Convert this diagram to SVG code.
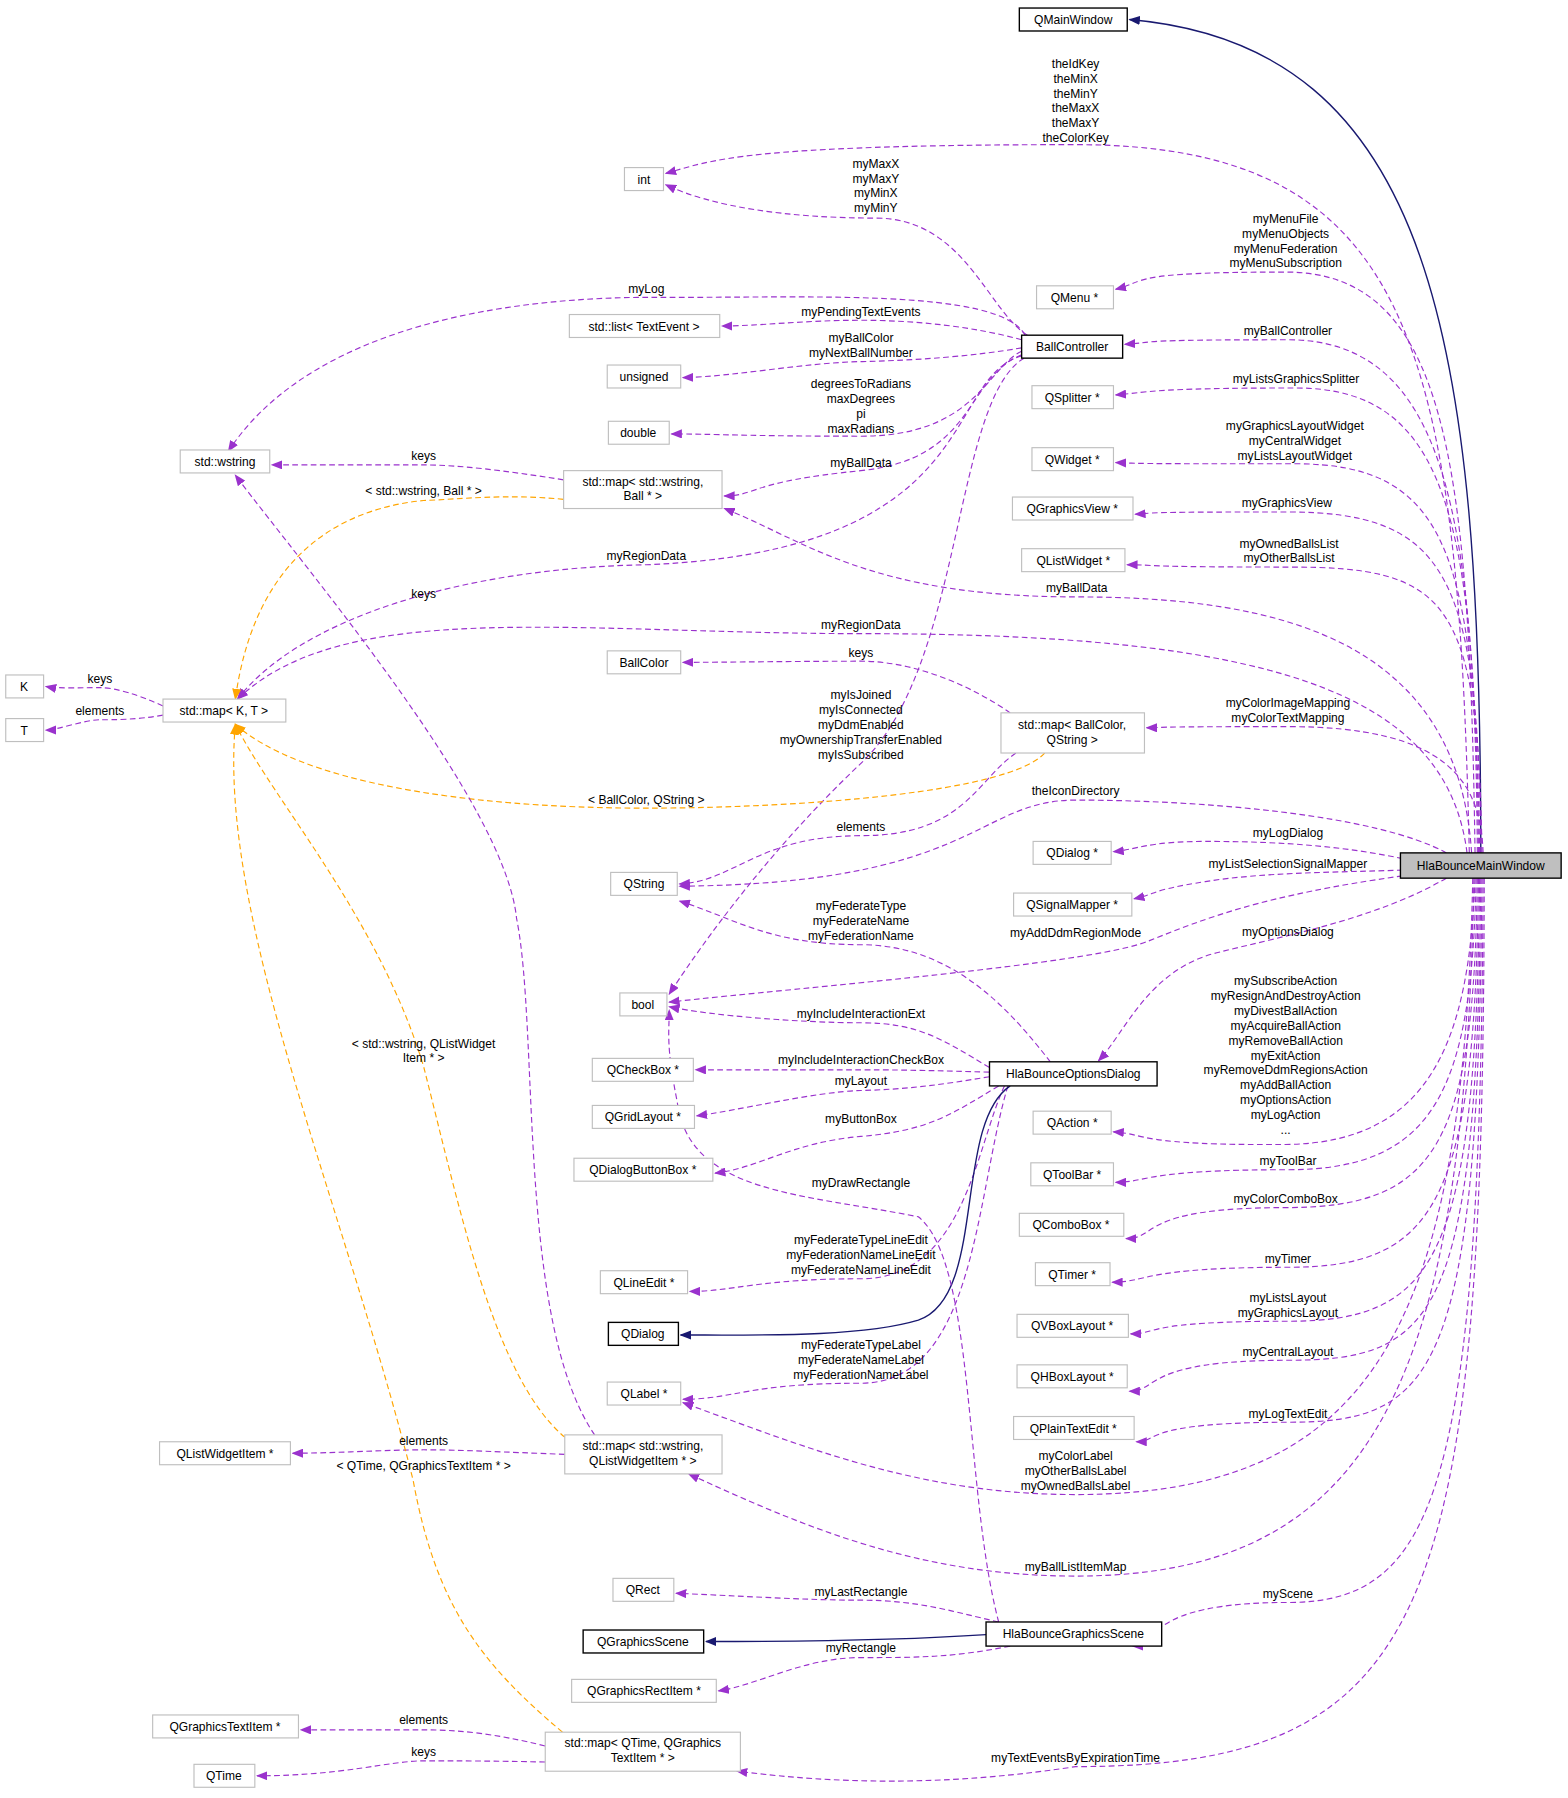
<svg xmlns="http://www.w3.org/2000/svg" width="1568" height="1798" viewBox="0 0 1568 1798">
<style>
text{font-family:"Liberation Sans",Arial,sans-serif;font-size:10.5px;fill:#000}
.n rect{fill:#fff;stroke:#bfbfbf;stroke-width:1}
.d rect{fill:#fff;stroke:#000;stroke-width:1.2}
.m{text-anchor:middle}
.p{fill:none;stroke:#9a32cd;stroke-dasharray:5,3;stroke-width:1;marker-end:url(#ap)}
.o{fill:none;stroke:#ffa500;stroke-dasharray:5,3;stroke-width:1;marker-end:url(#ao)}
.v{fill:none;stroke:#191970;stroke-width:1.2;marker-end:url(#av)}
</style>
<defs>
<marker id="ap" markerWidth="10" markerHeight="8" refX="9" refY="4" orient="auto" markerUnits="userSpaceOnUse"><path d="M0,0L10,4L0,8z" fill="#9a32cd"/></marker>
<marker id="ao" markerWidth="10" markerHeight="8" refX="9" refY="4" orient="auto" markerUnits="userSpaceOnUse"><path d="M0,0L10,4L0,8z" fill="#ffa500"/></marker>
<marker id="av" markerWidth="10" markerHeight="8" refX="9" refY="4" orient="auto" markerUnits="userSpaceOnUse"><path d="M0,0L10,4L0,8z" fill="#191970"/></marker>
</defs>
<rect width="1568" height="1798" fill="#fff"/>
<g transform="scale(1.1479)">
<g id="connectors">
<path class="v" d="M1290,743 C1290,300 1250,40 984,17"/>
<path class="p" d="M1280,743 C1270,300 1230,126 937,126 S620,140 580,151"/>
<path class="p" d="M1285,743 C1280,400 1260,237 1120,237 S1000,245 972,252"/>
<path class="p" d="M1287,743 C1285,450 1260,296 1122,296 S1010,298 980,300"/>
<path class="p" d="M1288,743 C1285,450 1260,338 1129,338 S1000,342 972,344"/>
<path class="p" d="M1289,743 C1285,480 1260,404 1128,404 S1000,404 972,403"/>
<path class="p" d="M1290,743 C1288,500 1260,446 1121,446 S1010,447 989,448"/>
<path class="p" d="M1291,743 C1288,520 1260,494 1123,494 S1010,492 982,492"/>
<path class="p" d="M1282,743 C1270,560 1120,520 938,520 S700,470 631,443"/>
<path class="p" d="M1278,743 C1260,600 1100,552 750,552 C500,552 300,520 207,609"/>
<path class="p" d="M1292,743 C1290,680 1260,633 1122,633 S1020,634 999,634"/>
<path class="p" d="M1260,743 C1200,710 1050,697 937,697 C850,697 850,770 592,772"/>
<path class="p" d="M1222,748 C1160,735 1100,733 1050,733 S990,740 970,742"/>
<path class="p" d="M1222,758 C1160,760 1100,760 1050,768 S1010,778 988,783"/>
<path class="p" d="M1222,763 C1100,780 1050,800 1000,820 S700,860 583,873"/>
<path class="p" d="M1260,765 C1200,800 1120,815 1060,830 S980,900 957,924"/>
<path class="p" d="M1285,765 C1280,900 1250,996 1120,997 S1000,988 970,986"/>
<path class="p" d="M1286,765 C1282,950 1250,1019 1122,1019 S1000,1030 972,1030"/>
<path class="p" d="M1287,765 C1284,1000 1250,1052 1120,1052 S1010,1079 981,1079"/>
<path class="p" d="M1288,765 C1285,1050 1250,1104 1122,1104 S1000,1117 969,1117"/>
<path class="p" d="M1289,765 C1286,1100 1250,1151 1122,1151 S1010,1162 985,1162"/>
<path class="p" d="M1290,765 C1287,1150 1250,1185 1122,1185 S1010,1212 984,1212"/>
<path class="p" d="M1291,765 C1288,1200 1250,1239 1122,1239 S1010,1256 990,1256"/>
<path class="p" d="M1283,765 C1275,1150 1200,1302 937,1302 C800,1302 700,1260 595,1222"/>
<path class="p" d="M1284,765 C1276,1200 1200,1373 937,1373 C800,1373 700,1330 600,1284"/>
<path class="p" d="M1292,765 C1290,1300 1250,1396 1122,1396 S1010,1434 987,1434"/>
<path class="p" d="M1293,765 C1292,1400 1250,1539 937,1539 C800,1560 700,1550 642,1543"/>
<path class="p" d="M895,292 C860,270 840,190 763,190 S620,180 580,161"/>
<path class="p" d="M893,292 C870,250 700,260 563,259 C400,260 260,300 199,393"/>
<path class="p" d="M890,296 C850,285 800,279 750,279 S660,284 629,284"/>
<path class="p" d="M890,303 C850,310 800,314 750,315 S640,328 595,329"/>
<path class="p" d="M890,306 C860,320 850,380 750,380 S620,378 585,378"/>
<path class="p" d="M890,309 C840,330 850,400 750,410 S660,432 631,432"/>
<path class="p" d="M890,310 C820,330 860,480 563,492 C400,495 260,540 207,609"/>
<path class="p" d="M892,312 C830,350 840,580 750,665 S600,840 583,866"/>
<path class="p" d="M491,418 C440,410 400,405 369,405 S270,405 237,405"/>
<path class="o" d="M491,435 C440,430 400,435 369,436 C280,445 220,500 205,609"/>
<path class="p" d="M142,615 C120,605 100,599 87,599 S50,600 40,598"/>
<path class="p" d="M142,623 C120,627 100,627 87,627 S50,636 40,636"/>
<path class="p" d="M880,621 C850,600 800,576 750,576 S630,577 595,577"/>
<path class="p" d="M885,656 C850,680 840,728 750,728 S640,768 592,770"/>
<path class="o" d="M910,656 C880,690 700,704 563,704 C400,704 260,680 205,631"/>
<path class="p" d="M915,925 C880,880 830,823 750,823 S640,800 592,785"/>
<path class="p" d="M862,930 C820,905 800,891 750,891 S620,885 583,877"/>
<path class="p" d="M862,934 C820,933 800,932 750,932 S640,932 606,932"/>
<path class="p" d="M862,938 C820,945 790,949 750,950 S640,968 607,972"/>
<path class="p" d="M870,946 C830,970 810,985 750,990 S660,1018 623,1022"/>
<path class="p" d="M875,946 C850,1000 840,1114 750,1114 S640,1125 601,1125"/>
<path class="p" d="M878,946 C850,1040 850,1205 750,1205 S640,1219 595,1219"/>
<path class="v" d="M880,946 C830,980 860,1130 800,1150 C750,1165 660,1163 593,1163"/>
<path class="p" d="M870,1413 C840,1300 850,1100 800,1060 C700,1040 600,1040 590,960 C580,910 583,900 583,880"/>
<path class="p" d="M870,1413 C830,1404 800,1394 750,1394 S640,1390 589,1388"/>
<path class="v" d="M859,1424 C800,1428 700,1430 615,1430"/>
<path class="p" d="M880,1434 C830,1444 800,1444 750,1444 S660,1468 626,1473"/>
<path class="p" d="M518,1250 C450,1150 470,900 450,800 C440,700 270,500 205,414"/>
<path class="p" d="M492,1267 C440,1265 400,1263 369,1263 S290,1266 255,1266"/>
<path class="o" d="M492,1252 C430,1200 400,1050 369,929 C330,800 240,700 205,631"/>
<path class="o" d="M490,1509 C420,1450 380,1400 360,1290 C300,1050 190,800 205,631"/>
<path class="p" d="M475,1521 C430,1510 400,1507 369,1507 S300,1507 262,1507"/>
<path class="p" d="M475,1535 C430,1534 400,1534 369,1534 S300,1547 224,1547"/>
</g>
<g id="labels" transform="translate(0,-4)">
<text class="m" x="937" y="63">theIdKey</text><text class="m" x="937" y="76">theMinX</text><text class="m" x="937" y="89">theMinY</text><text class="m" x="937" y="102">theMaxX</text><text class="m" x="937" y="115">theMaxY</text><text class="m" x="937" y="128">theColorKey</text>
<text class="m" x="1120" y="198">myMenuFile</text><text class="m" x="1120" y="211">myMenuObjects</text><text class="m" x="1120" y="224">myMenuFederation</text><text class="m" x="1120" y="237">myMenuSubscription</text>
<text class="m" x="1122" y="296">myBallController</text>
<text class="m" x="1129" y="338">myListsGraphicsSplitter</text>
<text class="m" x="1128" y="379">myGraphicsLayoutWidget</text><text class="m" x="1128" y="392">myCentralWidget</text><text class="m" x="1128" y="405">myListsLayoutWidget</text>
<text class="m" x="1121" y="446">myGraphicsView</text>
<text class="m" x="1123" y="481">myOwnedBallsList</text><text class="m" x="1123" y="494">myOtherBallsList</text>
<text class="m" x="938" y="520">myBallData</text>
<text class="m" x="750" y="552">myRegionData</text>
<text class="m" x="1122" y="620">myColorImageMapping</text><text class="m" x="1122" y="633">myColorTextMapping</text>
<text class="m" x="937" y="697">theIconDirectory</text>
<text class="m" x="1122" y="733">myLogDialog</text>
<text class="m" x="1122" y="760">myListSelectionSignalMapper</text>
<text class="m" x="937" y="820">myAddDdmRegionMode</text>
<text class="m" x="1122" y="819">myOptionsDialog</text>
<text class="m" x="1120" y="862">mySubscribeAction</text><text class="m" x="1120" y="875">myResignAndDestroyAction</text><text class="m" x="1120" y="888">myDivestBallAction</text><text class="m" x="1120" y="901">myAcquireBallAction</text><text class="m" x="1120" y="914">myRemoveBallAction</text><text class="m" x="1120" y="927">myExitAction</text><text class="m" x="1120" y="940">myRemoveDdmRegionsAction</text><text class="m" x="1120" y="953">myAddBallAction</text><text class="m" x="1120" y="966">myOptionsAction</text><text class="m" x="1120" y="979">myLogAction</text><text class="m" x="1120" y="992">...</text>
<text class="m" x="1122" y="1019">myToolBar</text>
<text class="m" x="1120" y="1052">myColorComboBox</text>
<text class="m" x="1122" y="1104">myTimer</text>
<text class="m" x="1122" y="1138">myListsLayout</text><text class="m" x="1122" y="1151">myGraphicsLayout</text>
<text class="m" x="1122" y="1185">myCentralLayout</text>
<text class="m" x="1122" y="1239">myLogTextEdit</text>
<text class="m" x="937" y="1276">myColorLabel</text><text class="m" x="937" y="1289">myOtherBallsLabel</text><text class="m" x="937" y="1302">myOwnedBallsLabel</text>
<text class="m" x="937" y="1373">myBallListItemMap</text>
<text class="m" x="1122" y="1396">myScene</text>
<text class="m" x="937" y="1539">myTextEventsByExpirationTime</text>
<text class="m" x="763" y="150">myMaxX</text><text class="m" x="763" y="163">myMaxY</text><text class="m" x="763" y="176">myMinX</text><text class="m" x="763" y="189">myMinY</text>
<text class="m" x="563" y="259">myLog</text>
<text class="m" x="750" y="279">myPendingTextEvents</text>
<text class="m" x="750" y="302">myBallColor</text><text class="m" x="750" y="315">myNextBallNumber</text>
<text class="m" x="750" y="342">degreesToRadians</text><text class="m" x="750" y="355">maxDegrees</text><text class="m" x="750" y="368">pi</text><text class="m" x="750" y="381">maxRadians</text>
<text class="m" x="750" y="411">myBallData</text>
<text class="m" x="563" y="492">myRegionData</text>
<text class="m" x="750" y="613">myIsJoined</text><text class="m" x="750" y="626">myIsConnected</text><text class="m" x="750" y="639">myDdmEnabled</text><text class="m" x="750" y="652">myOwnershipTransferEnabled</text><text class="m" x="750" y="665">myIsSubscribed</text>
<text class="m" x="369" y="405">keys</text>
<text class="m" x="369" y="435">&lt; std::wstring, Ball * &gt;</text>
<text class="m" x="369" y="525">keys</text>
<text class="m" x="87" y="599">keys</text>
<text class="m" x="87" y="627">elements</text>
<text class="m" x="750" y="576">keys</text>
<text class="m" x="750" y="728">elements</text>
<text class="m" x="563" y="704">&lt; BallColor, QString &gt;</text>
<text class="m" x="750" y="797">myFederateType</text><text class="m" x="750" y="810">myFederateName</text><text class="m" x="750" y="823">myFederationName</text>
<text class="m" x="750" y="891">myIncludeInteractionExt</text>
<text class="m" x="750" y="931">myIncludeInteractionCheckBox</text>
<text class="m" x="750" y="949">myLayout</text>
<text class="m" x="750" y="982">myButtonBox</text>
<text class="m" x="750" y="1088">myFederateTypeLineEdit</text><text class="m" x="750" y="1101">myFederationNameLineEdit</text><text class="m" x="750" y="1114">myFederateNameLineEdit</text>
<text class="m" x="750" y="1179">myFederateTypeLabel</text><text class="m" x="750" y="1192">myFederateNameLabel</text><text class="m" x="750" y="1205">myFederationNameLabel</text>
<text class="m" x="750" y="1038">myDrawRectangle</text>
<text class="m" x="750" y="1394">myLastRectangle</text>
<text class="m" x="750" y="1443">myRectangle</text>
<text class="m" x="369" y="917">&lt; std::wstring, QListWidget</text><text class="m" x="369" y="929">Item * &gt;</text>
<text class="m" x="369" y="1263">elements</text>
<text class="m" x="369" y="1285">&lt; QTime, QGraphicsTextItem * &gt;</text>
<text class="m" x="369" y="1506">elements</text>
<text class="m" x="369" y="1534">keys</text>
</g>
<g id="QMainWindow" class="d"><rect x="888" y="7" width="94" height="20"/><text class="m" x="935" y="21">QMainWindow</text></g>
<g id="int" class="n"><rect x="544" y="146" width="34" height="20"/><text class="m" x="561" y="160">int</text></g>
<g id="QMenu" class="n"><rect x="903" y="249" width="67" height="20"/><text class="m" x="936" y="263">QMenu *</text></g>
<g id="BallController" class="d"><rect x="890" y="292" width="88" height="20"/><text class="m" x="934" y="306">BallController</text></g>
<g id="stdlist" class="n"><rect x="496" y="274" width="131" height="20"/><text class="m" x="561" y="288">std::list&lt; TextEvent &gt;</text></g>
<g id="unsigned" class="n"><rect x="529" y="318" width="64" height="20"/><text class="m" x="561" y="332">unsigned</text></g>
<g id="QSplitter" class="n"><rect x="899" y="336" width="71" height="20"/><text class="m" x="934" y="350">QSplitter *</text></g>
<g id="double" class="n"><rect x="530" y="367" width="53" height="20"/><text class="m" x="556" y="381">double</text></g>
<g id="wstring" class="n"><rect x="157" y="392" width="78" height="20"/><text class="m" x="196" y="406">std::wstring</text></g>
<g id="mapWB" class="n"><rect x="491" y="410" width="138" height="33"/><text class="m" x="560" y="423">std::map&lt; std::wstring,</text><text class="m" x="560" y="436">Ball * &gt;</text></g>
<g id="QWidget" class="n"><rect x="899" y="390" width="71" height="20"/><text class="m" x="934" y="404">QWidget *</text></g>
<g id="QGraphicsView" class="n"><rect x="882" y="433" width="105" height="20"/><text class="m" x="934" y="447">QGraphicsView *</text></g>
<g id="QListWidget" class="n"><rect x="890" y="478" width="90" height="20"/><text class="m" x="935" y="492">QListWidget *</text></g>
<g id="BallColor" class="n"><rect x="529" y="567" width="64" height="20"/><text class="m" x="561" y="581">BallColor</text></g>
<g id="K" class="n"><rect x="5" y="588" width="33" height="20"/><text class="m" x="21" y="602">K</text></g>
<g id="T" class="n"><rect x="5" y="626" width="33" height="20"/><text class="m" x="21" y="640">T</text></g>
<g id="mapKT" class="n"><rect x="142" y="609" width="107" height="20"/><text class="m" x="195" y="623">std::map&lt; K, T &gt;</text></g>
<g id="mapBCQS" class="n"><rect x="872" y="621" width="125" height="35"/><text class="m" x="934" y="635">std::map&lt; BallColor,</text><text class="m" x="934" y="648">QString &gt;</text></g>
<g id="QDialogP" class="n"><rect x="900" y="733" width="68" height="20"/><text class="m" x="934" y="747">QDialog *</text></g>
<g id="QString" class="n"><rect x="532" y="760" width="58" height="20"/><text class="m" x="561" y="774">QString</text></g>
<g id="QSignalMapper" class="n"><rect x="883" y="778" width="103" height="20"/><text class="m" x="934" y="792">QSignalMapper *</text></g>
<g id="HlaBounceMainWindow"><rect x="1220" y="743" width="140" height="22" fill="#bfbfbf" stroke="#000" stroke-width="1.2"/><text class="m" x="1290" y="758">HlaBounceMainWindow</text></g>
<g id="bool" class="n"><rect x="540" y="865" width="41" height="20"/><text class="m" x="560" y="879">bool</text></g>
<g id="QCheckBox" class="n"><rect x="516" y="922" width="88" height="20"/><text class="m" x="560" y="936">QCheckBox *</text></g>
<g id="HlaBounceOptionsDialog" class="d"><rect x="862" y="925" width="146" height="21"/><text class="m" x="935" y="939">HlaBounceOptionsDialog</text></g>
<g id="QGridLayout" class="n"><rect x="516" y="963" width="89" height="20"/><text class="m" x="560" y="977">QGridLayout *</text></g>
<g id="QAction" class="n"><rect x="900" y="968" width="68" height="20"/><text class="m" x="934" y="982">QAction *</text></g>
<g id="QDialogButtonBox" class="n"><rect x="500" y="1009" width="121" height="20"/><text class="m" x="560" y="1023">QDialogButtonBox *</text></g>
<g id="QToolBar" class="n"><rect x="898" y="1013" width="72" height="20"/><text class="m" x="934" y="1027">QToolBar *</text></g>
<g id="QComboBox" class="n"><rect x="888" y="1057" width="91" height="20"/><text class="m" x="933" y="1071">QComboBox *</text></g>
<g id="QTimer" class="n"><rect x="902" y="1100" width="65" height="20"/><text class="m" x="934" y="1114">QTimer *</text></g>
<g id="QLineEdit" class="n"><rect x="523" y="1107" width="76" height="20"/><text class="m" x="561" y="1121">QLineEdit *</text></g>
<g id="QDialog" class="d"><rect x="530" y="1152" width="61" height="20"/><text class="m" x="560" y="1166">QDialog</text></g>
<g id="QVBoxLayout" class="n"><rect x="886" y="1145" width="97" height="20"/><text class="m" x="934" y="1159">QVBoxLayout *</text></g>
<g id="QHBoxLayout" class="n"><rect x="886" y="1189" width="96" height="20"/><text class="m" x="934" y="1203">QHBoxLayout *</text></g>
<g id="QLabel" class="n"><rect x="529" y="1204" width="64" height="20"/><text class="m" x="561" y="1218">QLabel *</text></g>
<g id="QPlainTextEdit" class="n"><rect x="883" y="1234" width="105" height="20"/><text class="m" x="935" y="1248">QPlainTextEdit *</text></g>
<g id="QListWidgetItem" class="n"><rect x="139" y="1256" width="114" height="20"/><text class="m" x="196" y="1270">QListWidgetItem *</text></g>
<g id="mapWLWI" class="n"><rect x="492" y="1250" width="137" height="34"/><text class="m" x="560" y="1263">std::map&lt; std::wstring,</text><text class="m" x="560" y="1276">QListWidgetItem * &gt;</text></g>
<g id="QRect" class="n"><rect x="534" y="1375" width="53" height="20"/><text class="m" x="560" y="1389">QRect</text></g>
<g id="QGraphicsScene" class="d"><rect x="508" y="1420" width="105" height="20"/><text class="m" x="560" y="1434">QGraphicsScene</text></g>
<g id="HlaBounceGraphicsScene" class="d"><rect x="859" y="1413" width="153" height="21"/><text class="m" x="935" y="1427">HlaBounceGraphicsScene</text></g>
<g id="QGraphicsRectItem" class="n"><rect x="498" y="1463" width="126" height="20"/><text class="m" x="561" y="1477">QGraphicsRectItem *</text></g>
<g id="QGraphicsTextItem" class="n"><rect x="133" y="1494" width="127" height="20"/><text class="m" x="196" y="1508">QGraphicsTextItem *</text></g>
<g id="mapQTGTI" class="n"><rect x="475" y="1509" width="170" height="34"/><text class="m" x="560" y="1522">std::map&lt; QTime, QGraphics</text><text class="m" x="560" y="1535">TextItem * &gt;</text></g>
<g id="QTime" class="n"><rect x="169" y="1537" width="53" height="20"/><text class="m" x="195" y="1551">QTime</text></g>
</g>
</svg>
